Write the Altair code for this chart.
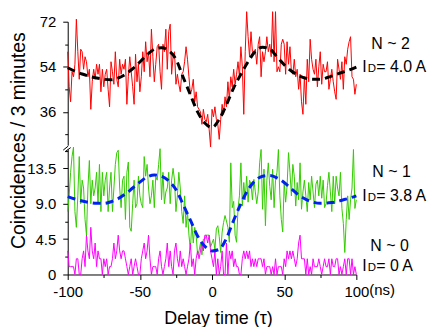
import altair as alt
import pandas as pd

# ---------------- data ----------------
t_ns = list(range(-100, 101))  # delay time (ns), 1 ns bins

red_n2 = [
    60, 46, 40, 52, 50, 55, 73, 60, 49, 61,
    60, 53, 58, 56, 50, 53, 37, 48, 53, 49,
    55, 51, 55, 44, 53, 46, 51, 53, 45, 38,
    56, 52, 47, 60, 49, 46, 57, 51, 55, 53,
    57, 39, 50, 58, 52, 46, 39, 59, 48, 55,
    44, 50, 60, 52, 64, 56, 60, 50, 69, 58,
    48, 55, 62, 63, 52,
    45, 63, 60, 69, 53, 68, 71, 51, 58, 60,
    47, 51, 47, 44, 51, 52, 56, 62, 57, 50,
    43, 45, 49, 40, 44, 38, 37, 36, 31, 37,
    33, 32, 35, 29, 22, 37, 34, 38, 33, 31,
    25, 33, 39, 35, 42, 38, 48, 41, 50, 46,
    53, 47, 51, 56, 50, 62, 54, 35, 60, 76,
    66, 58, 68, 60, 59, 61, 55, 63, 66, 50,
    60, 56, 60, 66, 60, 63, 58, 76, 56, 76,
    52, 54, 52, 63, 65, 63, 51, 64, 55, 62,
    52, 51, 57, 50, 53, 45, 51, 40, 35, 50,
    39, 57, 48, 65, 57, 53, 51, 57, 46, 54,
    60, 47, 55, 52, 52, 56, 45, 49, 53, 48,
    44, 41, 57, 53, 49, 56, 45, 58, 55, 61,
    64, 66, 50, 49, 43, 47,
]

green_n1 = [
    8, 10, 13, 15, 16.2, 8, 6, 10, 15, 9,
    12, 11, 7, 5, 11, 14.5, 9, 12, 10, 11,
    13, 9, 14, 8, 13, 10, 12, 13, 8, 11,
    13, 8, 11, 14, 15.5, 15.8, 11, 8.5, 12, 12.5,
    7, 13, 14.3, 6, 5.5, 9, 12, 8.5, 9, 12.5,
    10, 9, 8.5, 15, 12.5, 14, 11, 9, 10, 12,
    8.5, 12.5, 12, 14, 16, 9.5, 13, 9, 10.5, 11,
    13, 9, 12, 13.5, 12, 8, 10, 13, 11, 8,
    6.5, 10, 6, 8, 5, 3.2, 6.5, 4, 6, 5,
    2.5, 3, 4, 2.5, 4.5, 4.5, 5, 5, 5,
    3.5, 4, 4.5, 3.2, 5.8, 6.2, 4.8, 2.8, 5.4, 6.6,
    7.5, 6.8, 6, 4.1, 14.2, 8.5, 9.3, 5, 4.1, 8.4,
    10, 14.2, 8.7, 11.7, 9.5, 12.5, 9.2, 12, 11.5, 9.5,
    12.1, 10.5, 9, 10.5, 14.2, 15.9, 8.3, 13.4, 6.2, 12,
    14.2, 11.2, 9.5, 13.4, 8.5, 12, 13, 15.9, 10, 7,
    5.4, 11.7, 9.2, 11.2, 15.5, 13, 10, 14, 12.5, 8.7,
    11.7, 9.5, 14.2, 8.3, 10.5, 12, 10, 8, 11.7, 9.5,
    12.5, 10.5, 8.5, 11.5, 12, 10, 12.5, 9.7, 12, 8.5,
    9, 11.3, 13, 10.5, 8, 12.5, 9, 12.5, 11, 10,
    13, 8.4, 6.5, 2.8, 7, 10, 7, 9.5, 11, 15.9,
    8.4, 9.5,
]

magenta_n0 = [
    3, 1, 1, 1, 1, 0, 2, 2, 0, 0,
    2, 3, 1, 5, 3, 2, 6, 3, 2, 4,
    1, 3, 2, 2, 0, 2, 1, 2, 0, 1,
    1, 2, 4, 2, 3, 5, 3, 2, 3, 3,
    2, 1, 0, 1, 2, 0, 1, 2, 1, 0,
    0, 2, 3, 4, 2, 3, 5, 2, 0, 1,
    1, 1, 0, 2, 3, 1, 0, 1, 2, 4,
    1, 3, 1, 0, 3, 4, 2, 1, 3, 1,
    2, 1, 0, 1, 2, 4, 1, 2, 0, 2,
    3, 2, 3, 4, 3, 5, 5, 4, 5,
    3, 2, 1, 3, 0, 2, 0, 1, 3, 0,
    0, 4, 0, 3, 2, 3, 1, 2, 1, 1,
    0, 0, 2, 3, 2, 3, 2, 3, 1, 2,
    1, 2, 1, 2, 2, 2, 1, 2, 0, 1,
    1, 1, 0, 1, 0, 2, 0, 1, 1, 1,
    0, 2, 1, 3, 2, 3, 2, 3, 2, 1,
    2, 4, 5, 2, 2, 2, 0, 2, 0, 1,
    0, 2, 1, 1, 1, 2, 1, 0, 1, 2,
    1, 1, 2, 0, 2, 1, 1, 2, 2, 0,
    1, 0, 1, 2, 0, 2, 2, 0, 2, 0,
    1, 0,
]

fit_t = list(range(-100, 101, 5))
fit_n2 = [53.6, 52.2, 51.1, 50.2, 49.5, 49.0, 48.8, 49.5, 51.0, 53.2,
          55.9, 58.8, 61.0, 61.6, 60.4, 57.0, 49.8, 42.8, 36.0, 31.5,
          29.8, 33.0, 38.8, 45.6, 51.0, 56.0, 60.2, 61.8, 61.1, 58.0,
          54.8, 52.3, 50.5, 49.4, 49.0, 49.0, 49.7, 50.7, 51.7, 52.7, 53.9]
fit_n1 = [9.9, 9.6, 9.35, 9.15, 9.05, 9.05, 9.25, 9.65, 10.25, 11.0,
          11.75, 12.4, 12.66, 12.5, 11.9, 10.8, 8.9, 6.9, 4.9, 3.6,
          3.0, 3.2, 4.6, 6.9, 9.0, 10.8, 11.95, 12.5, 12.6, 12.3,
          11.7, 10.9, 10.1, 9.55, 9.2, 9.05, 9.1, 9.2, 9.45, 9.7, 10.0]

x_ticks = [-100, -75, -50, -25, 0, 25, 50, 75, 100]
top_ticks = [27, 36, 45, 54, 63, 72]
bottom_ticks = [0, 2.25, 4.5, 6.75, 9, 11.25, 13.5, 15.75]

# ---------------- layout / style ----------------
FONT = "Liberation Sans"
W = 290
H_TOP = 124
H_BOT = 126
ANN = 16  # annotation font size

df_red = pd.DataFrame({"t": t_ns, "v": red_n2})
df_green = pd.DataFrame({"t": t_ns, "v": green_n1})
df_mag = pd.DataFrame({"t": t_ns, "v": magenta_n0})
df_fit_top = pd.DataFrame({"t": fit_t, "v": fit_n2})
df_fit_bot = pd.DataFrame({"t": fit_t, "v": fit_n1})
one = pd.DataFrame({"k": [0]})

xs = alt.Scale(domain=[-100, 100], nice=False)
ys_top = alt.Scale(domain=[22.7, 72], nice=False, zero=False)
ys_bot = alt.Scale(domain=[0, 15.95], nice=False)

axis_common = dict(
    grid=False, title=None, domainColor="black", tickColor="black",
    labelColor="black", labelFont=FONT, labelFontSize=15, domainWidth=1,
    tickWidth=1,
)

y_axis_top = alt.Axis(
    values=top_ticks,
    tickSize={"condition": {"test": "datum.value % 18 == 0", "value": 5}, "value": 3},
    labelExpr="datum.value % 18 == 0 ? ('' + datum.value) : ''",
    labelPadding=7,
    **axis_common,
)
y_axis_bot = alt.Axis(
    values=bottom_ticks,
    tickSize={"condition": {"test": "datum.value % 4.5 == 0", "value": 5}, "value": 3},
    labelExpr="datum.value % 4.5 == 0 ? (datum.value == 0 ? '0' : format(datum.value, '.1f')) : ''",
    labelPadding=7,
    **axis_common,
)
x_axis_bot = alt.Axis(
    values=x_ticks,
    tickSize={"condition": {"test": "datum.value % 50 == 0", "value": 5}, "value": 3},
    labelExpr="datum.value % 50 == 0 ? ('' + datum.value) : ''",
    labelPadding=5,
    labelFlush=False,
    grid=False, domainColor="black", tickColor="black",
    labelColor="black", labelFont=FONT, labelFontSize=15, domainWidth=1,
    tickWidth=1,
    title="Delay time (\u03c4)", titleFont=FONT, titleFontSize=18,
    titleFontWeight="normal", titleColor="black",
    titleX=151, titleY=49, titleAlign="center", titleBaseline="alphabetic",
    titleAnchor="start",
)


def label(txt, px, py, fs, **kw):
    props = dict(text=txt, fontSize=fs, font=FONT, align="left",
                 baseline="alphabetic", color="black")
    props.update(kw)
    return alt.Chart(one).mark_text(**props).encode(
        x=alt.value(px), y=alt.value(py))


def slash(x1, y1, x2, y2):
    return alt.Chart(one).mark_rule(color="black", strokeWidth=1).encode(
        x=alt.value(x1), y=alt.value(y1), x2=alt.value(x2), y2=alt.value(y2))


# ---------------- top panel (N ~ 2) ----------------
red_line = alt.Chart(df_red).mark_line(color="#FF0000", strokeWidth=1, clip=False).encode(
    x=alt.X("t:Q", scale=xs, axis=None),
    y=alt.Y("v:Q", scale=ys_top, axis=y_axis_top),
)
black_fit = alt.Chart(df_fit_top).mark_line(
    color="black", strokeWidth=3, strokeDash=[8, 5], interpolate="monotone"
).encode(
    x=alt.X("t:Q", scale=xs, axis=None),
    y=alt.Y("v:Q", scale=ys_top, axis=y_axis_top),
)
top = alt.layer(
    red_line, black_fit,
    label("Coincidences / 3 minutes", -43, 119.5, 19.5, angle=270, align="center"),
    label("N ~ 2", 305, 27, ANN),
    label("I", 296, 50.3, ANN),
    label("D", 301.5, 50.3, 11.5),
    label("= 4.0 A", 310, 50.3, ANN),
).properties(width=W, height=H_TOP)

# ---------------- bottom panel (N ~ 1, N ~ 0) ----------------
green_line = alt.Chart(df_green).mark_line(color="#33CC00", strokeWidth=1, clip=False).encode(
    x=alt.X("t:Q", scale=xs, axis=x_axis_bot),
    y=alt.Y("v:Q", scale=ys_bot, axis=y_axis_bot),
)
mag_line = alt.Chart(df_mag).mark_line(color="#FF00FF", strokeWidth=1).encode(
    x=alt.X("t:Q", scale=xs, axis=x_axis_bot),
    y=alt.Y("v:Q", scale=ys_bot, axis=y_axis_bot),
)
blue_fit = alt.Chart(df_fit_bot).mark_line(
    color="#0022EE", strokeWidth=3, strokeDash=[8, 5], interpolate="monotone"
).encode(
    x=alt.X("t:Q", scale=xs, axis=x_axis_bot),
    y=alt.Y("v:Q", scale=ys_bot, axis=y_axis_bot),
)
bottom = alt.layer(
    green_line, mag_line, blue_fit,
    slash(-4.5, 1, 0.5, -3),
    slash(-2.5, 2.5, 3, -1.5),
    label("N ~ 1", 306, 28.3, ANN),
    label("I", 296, 52.3, ANN),
    label("D", 301.5, 52.3, 11.5),
    label("= 3.8 A", 310, 52.3, ANN),
    label("N ~ 0", 304, 102.3, ANN),
    label("I", 296, 122.3, ANN),
    label("D", 301.5, 122.3, 11.5),
    label("= 0 A", 310, 122.3, ANN),
    label("(ns)", 303, 146.7, 15),
).properties(width=W, height=H_BOT)

chart = alt.vconcat(top, bottom, spacing=4, bounds="flush").properties(
    padding=0, background="white"
).configure_view(stroke=None)

chart.save("out.html", embed_options={"renderer": "svg", "actions": False})
